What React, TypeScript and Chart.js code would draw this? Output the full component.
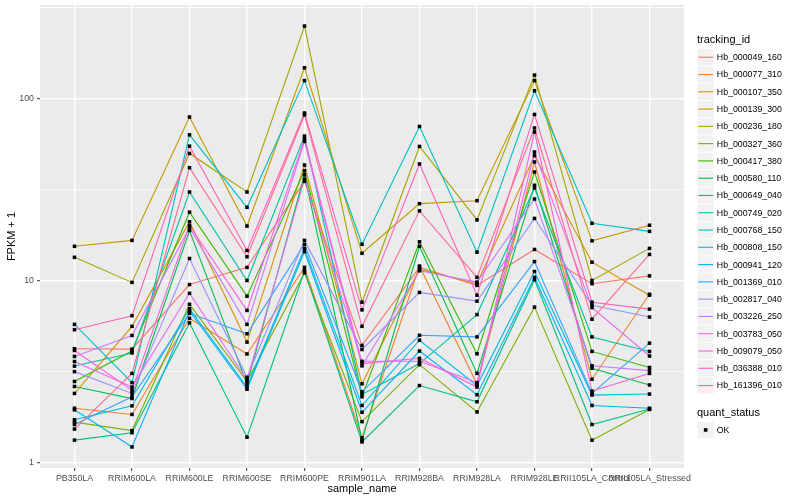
import React, { useEffect, useRef } from "react";
import { Chart, registerables } from "chart.js";
Chart.register(...registerables);

const categories = [
  "PB350LA", "RRIM600LA", "RRIM600LE", "RRIM600SE", "RRIM600PE", "RRIM901LA",
  "RRIM928BA", "RRIM928LA", "RRIM928LE", "RRII105LA_Control", "RRII105LA_Stressed",
];

const trackingIds = [
  "Hb_000049_160", "Hb_000077_310", "Hb_000107_350", "Hb_000139_300", "Hb_000236_180",
  "Hb_000327_360", "Hb_000417_380", "Hb_000580_110", "Hb_000649_040", "Hb_000749_020",
  "Hb_000768_150", "Hb_000808_150", "Hb_000941_120", "Hb_001369_010", "Hb_002817_040",
  "Hb_003226_250", "Hb_003783_050", "Hb_009079_050", "Hb_036388_010", "Hb_161396_010",
];

const seriesColors = [
  "#F8766D", "#EA8331", "#D89000", "#C09B00", "#A3A500", "#7CAE00", "#39B600", "#00BB4E",
  "#00BF7D", "#00C1A3", "#00BFC4", "#00BAE0", "#00B0F6", "#35A2FF", "#9590FF", "#C77CFF",
  "#E76BF3", "#FA62DB", "#FF62BC", "#FF6C91",
];

// FPKM + 1 per sample (order of categories)
const hb000049_160 = [4.22, 4.2, 9.5, 11.8, 35, 4.4, 11.8, 9.4, 14.8, 9.6, 10.6];
const hb000077_310 = [1.99, 1.84, 6.2, 3.95, 11.8, 1.37, 12.0, 2.7, 44.7, 2.87, 8.4];
const hb000107_350 = [2.4, 5.6, 21, 4.59, 43, 2.71, 11.5, 9.6, 48.4, 12.6, 8.3];
const hb000139_300 = [15.4, 16.6, 78.9, 19.9, 147, 14.1, 26.4, 27.4, 125, 16.5, 20.1];
const hb000236_180 = [13.4, 9.76, 49.8, 30.6, 249, 7.6, 54.4, 21.5, 134, 10.0, 15.0];
const hb000327_360 = [1.67, 1.5, 7.4, 2.8, 11, 1.68, 3.45, 1.9, 7.14, 1.33, 1.96];
const hb000417_380 = [2.79, 4.1, 23.7, 8.2, 40, 2.3, 16.3, 3.96, 39.4, 4.08, 3.33];
const hb000580_110 = [2.62, 2.25, 18.8, 2.7, 38, 1.33, 15.4, 3.09, 33.3, 3.3, 2.67];
const hb000649_040 = [1.33, 1.46, 5.85, 1.38, 11.3, 1.3, 2.65, 2.16, 10.1, 1.62, 1.97];
const hb000749_020 = [3.39, 4.0, 30.6, 10.0, 62, 2.37, 3.5, 6.5, 32.2, 4.9, 4.08];
const hb000768_150 = [5.74, 2.75, 63, 25.2, 125, 15.8, 70, 14.3, 110, 20.6, 18.6];
const hb000808_150 = [1.72, 2.05, 7.0, 2.6, 15, 2.06, 4.7, 2.65, 11.2, 2.35, 2.38];
const hb000941_120 = [1.95, 1.22, 6.8, 2.53, 14.4, 1.89, 4.1, 2.36, 10.4, 2.06, 1.99];
const hb001369_010 = [1.62, 2.3, 6.6, 5.1, 15.8, 2.45, 5.0, 4.9, 12.7, 2.4, 4.53];
const hb002817_040 = [3.16, 2.4, 13.2, 2.94, 16.6, 4.18, 8.6, 7.7, 21.9, 7.3, 6.3];
const hb003226_250 = [3.83, 4.99, 19.5, 5.74, 58, 3.4, 11.3, 9.8, 28, 3.4, 3.2];
const hb003783_050 = [3.59, 2.6, 8.5, 2.85, 36, 3.6, 3.6, 2.75, 50.7, 7.1, 3.85];
const hb009079_050 = [4.13, 2.5, 20, 6.85, 60, 3.5, 3.74, 2.6, 65.3, 2.47, 3.09];
const hb036388_010 = [5.37, 6.41, 54.6, 14.6, 83, 6.9, 43.6, 8.3, 81.5, 7.6, 6.96];
const hb161396_010 = [1.53, 3.09, 41.6, 13.5, 81, 5.6, 24.1, 10.4, 68.7, 6.13, 13.9];

const seriesValues = [
  hb000049_160, hb000077_310, hb000107_350, hb000139_300, hb000236_180,
  hb000327_360, hb000417_380, hb000580_110, hb000649_040, hb000749_020,
  hb000768_150, hb000808_150, hb000941_120, hb001369_010, hb002817_040,
  hb003226_250, hb003783_050, hb009079_050, hb036388_010, hb161396_010,
];

const yMajorTicks = [1, 10, 100];
const yMinorTicks = [3.1623, 31.623, 316.23];
const quantStatus = ["OK"];

const FONT = "'Liberation Sans', Arial, Helvetica, sans-serif";

const ggPlugin = {
  id: "ggstyle",
  beforeDraw(chart: any) {
    const { ctx, chartArea: a } = chart;
    ctx.save();
    ctx.fillStyle = "#FFFFFF";
    ctx.fillRect(0, 0, chart.width, chart.height);
    ctx.fillStyle = "#EBEBEB";
    ctx.fillRect(a.left, a.top, a.right - a.left, a.bottom - a.top);
    ctx.restore();
  },
  afterDraw(chart: any) {
    const { ctx, chartArea: a } = chart;
    ctx.save();
    // axis titles
    ctx.fillStyle = "#000000";
    ctx.font = `11px ${FONT}`;
    ctx.textAlign = "center";
    ctx.textBaseline = "middle";
    ctx.fillText("sample_name", (a.left + a.right) / 2, 489);
    ctx.save();
    ctx.translate(12, (a.top + a.bottom) / 2);
    ctx.rotate(-Math.PI / 2);
    ctx.fillText("FPKM + 1", 0, 0);
    ctx.restore();

    // legend: tracking_id
    const lx = 697;
    const key = 17.28;
    ctx.textAlign = "left";
    ctx.font = `11px ${FONT}`;
    ctx.fillText("tracking_id", lx, 40);
    ctx.font = `8.8px ${FONT}`;
    trackingIds.forEach((id, i) => {
      const y0 = 48.6 + i * key;
      ctx.fillStyle = "#F2F2F2";
      ctx.fillRect(lx + 0.5, y0 + 0.5, key - 1, key - 1);
      ctx.strokeStyle = seriesColors[i];
      ctx.lineWidth = 1.1;
      ctx.beginPath();
      ctx.moveTo(lx + 1.2, y0 + key / 2);
      ctx.lineTo(lx + key - 1.2, y0 + key / 2);
      ctx.stroke();
      ctx.fillStyle = "#000000";
      ctx.fillText(id, lx + key + 2.5, y0 + key / 2 + 0.5);
    });

    // legend: quant_status
    ctx.font = `11px ${FONT}`;
    ctx.fillText("quant_status", lx, 413);
    ctx.font = `8.8px ${FONT}`;
    quantStatus.forEach((s, i) => {
      const y0 = 421.3 + i * key;
      ctx.fillStyle = "#F2F2F2";
      ctx.fillRect(lx + 0.5, y0 + 0.5, key - 1, key - 1);
      ctx.fillStyle = "#000000";
      ctx.fillRect(lx + key / 2 - 1.8, y0 + key / 2 - 1.8, 3.6, 3.6);
      ctx.fillText(s, lx + key + 2.5, y0 + key / 2 + 0.5);
    });
    ctx.restore();
  },
};

export default function App() {
  const ref = useRef<HTMLCanvasElement | null>(null);

  useEffect(() => {
    if (!ref.current) return;
    const lineSets = seriesValues.map((vals, si) => ({
      type: "line" as const,
      label: trackingIds[si],
      data: vals.map((v, ci) => ({ x: ci, y: v })),
      borderColor: seriesColors[si],
      backgroundColor: seriesColors[si],
      borderWidth: 1.1,
      pointRadius: 0,
      tension: 0,
      fill: false,
      order: 100 - si,
    }));
    const pointSet = {
      type: "scatter" as const,
      label: "points",
      data: seriesValues.flatMap((vals) => vals.map((v, ci) => ({ x: ci, y: v }))),
      pointStyle: "rect",
      pointRadius: 2.5,
      pointBorderWidth: 0,
      borderWidth: 0,
      backgroundColor: "#000000",
      pointBackgroundColor: "#000000",
      showLine: false,
      order: 0,
    };

    const chart = new Chart(ref.current, {
      type: "line",
      data: { datasets: [...lineSets, pointSet] as any },
      plugins: [ggPlugin],
      options: {
        animation: false,
        responsive: false,
        devicePixelRatio: 1,
        events: [],
        layout: { padding: { top: 5, right: 116, left: 0, bottom: 0 } },
        plugins: { legend: { display: false }, tooltip: { enabled: false } },
        scales: {
          x: {
            type: "linear",
            min: -0.6,
            max: 10.6,
            border: { display: false },
            afterBuildTicks: (s: any) => {
              s.ticks = categories.map((_, i) => ({ value: i }));
            },
            afterFit: (s: any) => {
              s.height = 32;
              s.paddingLeft = 0;
              s.paddingRight = 0;
            },
            grid: {
              color: "#FFFFFF",
              lineWidth: 1.4,
              drawTicks: true,
              tickLength: 3,
              tickColor: "#333333",
              tickWidth: 1,
            },
            ticks: {
              autoSkip: false,
              maxRotation: 0,
              minRotation: 0,
              padding: 2,
              color: "#4D4D4D",
              font: { family: FONT, size: 8.8 },
              callback: (v: any) => categories[Number(v)] ?? "",
            },
          },
          y: {
            type: "logarithmic",
            min: 0.935,
            max: 325,
            border: { display: false },
            afterBuildTicks: (s: any) => {
              s.ticks = [...yMajorTicks, ...yMinorTicks]
                .sort((p, q) => p - q)
                .map((v) => ({ value: v }));
            },
            afterFit: (s: any) => {
              s.width = 40;
              s.paddingTop = 0;
              s.paddingBottom = 0;
            },
            grid: {
              color: "#FFFFFF",
              lineWidth: (c: any) => (yMajorTicks.includes(c.tick?.value) ? 1.4 : 0.7),
              drawTicks: true,
              tickLength: 3,
              tickColor: (c: any) => (yMajorTicks.includes(c.tick?.value) ? "#333333" : "rgba(0,0,0,0)"),
              tickWidth: 1,
            },
            ticks: {
              autoSkip: false,
              padding: 3,
              color: "#4D4D4D",
              font: { family: FONT, size: 8.8 },
              callback: (v: any) => (yMajorTicks.includes(Number(v)) ? String(v) : ""),
            },
          },
        },
      } as any,
    });
    return () => chart.destroy();
  }, []);

  return (
    <div style={{ position: "fixed", left: 0, top: 0, width: 800, height: 500, background: "#fff" }}>
      <canvas ref={ref} width={800} height={500} style={{ width: 800, height: 500, display: "block" }} />
    </div>
  );
}
